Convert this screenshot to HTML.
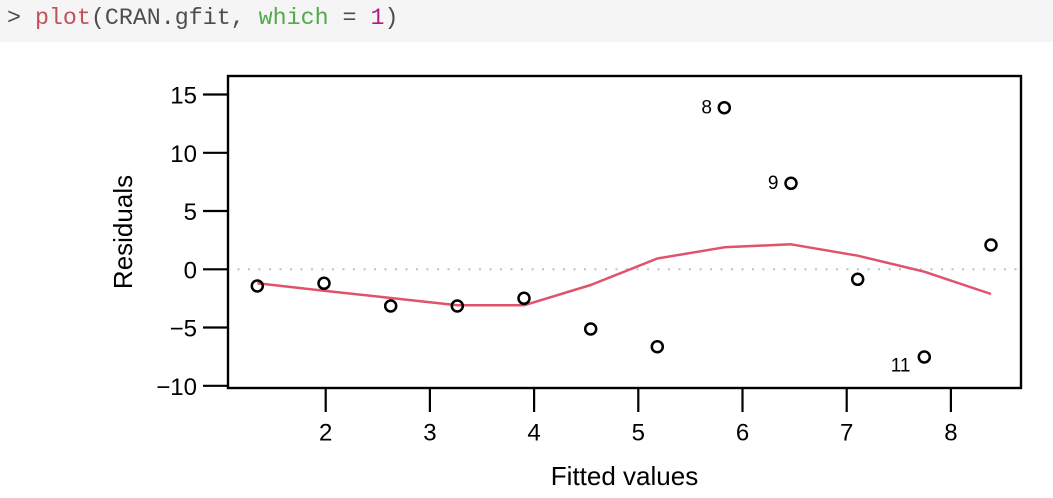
<!DOCTYPE html>
<html>
<head>
<meta charset="utf-8">
<style>
html,body{margin:0;padding:0;background:#fff;}
body{width:1053px;height:498px;overflow:hidden;position:relative;}
.hdr{position:absolute;left:0;top:0;width:1053px;height:42px;background:#f5f5f5;}
.code{position:absolute;left:7px;top:3px;font-family:"Liberation Mono",monospace;font-size:23.3px;line-height:30px;color:#4d4d4d;white-space:pre;}
.fn{color:#c4505c;}
.kw{color:#55a84b;}
.num{color:#b01a8a;}
svg{position:absolute;left:0;top:0;}
</style>
</head>
<body>
<div class="hdr"></div>
<div class="code">&gt; <span class="fn">plot</span>(CRAN.gfit, <span class="kw">which</span> = <span class="num">1</span>)</div>
<svg width="1053" height="498" viewBox="0 0 1053 498" xmlns="http://www.w3.org/2000/svg">
  <!-- zero dotted line -->
  <line x1="237.5" y1="269.3" x2="1020" y2="269.3" stroke="#c0c0c0" stroke-width="2" stroke-dasharray="2 8.5"/>
  <!-- lowess line -->
  <polyline fill="none" stroke="#DF536B" stroke-width="2.5" stroke-linejoin="round"
    points="257.3,283.3 324,290.7 390.7,298 457.3,305.3 524,305.3 590.7,285 657.3,258.5 724.3,247.3 791,244.3 857.7,255.7 924.3,271.7 991,294"/>
  <!-- points -->
  <g fill="none" stroke="#000" stroke-width="2.5">
    <circle cx="257.3" cy="286" r="5.5"/>
    <circle cx="324" cy="283.3" r="5.5"/>
    <circle cx="390.7" cy="306" r="5.5"/>
    <circle cx="457.3" cy="306" r="5.5"/>
    <circle cx="524" cy="298.3" r="5.5"/>
    <circle cx="590.7" cy="329" r="5.5"/>
    <circle cx="657.3" cy="346.7" r="5.5"/>
    <circle cx="724.3" cy="107.7" r="5.5"/>
    <circle cx="791" cy="183.3" r="5.5"/>
    <circle cx="857.7" cy="279.3" r="5.5"/>
    <circle cx="924.3" cy="357" r="5.5"/>
    <circle cx="991" cy="245" r="5.5"/>
  </g>
  <!-- point labels -->
  <g font-family="'Liberation Sans', sans-serif" font-size="19" fill="#000" text-anchor="end">
    <text x="712" y="113.3">8</text>
    <text x="778.5" y="189">9</text>
    <text x="910.5" y="371.5">11</text>
  </g>
  <!-- box -->
  <rect x="228" y="76" width="793" height="312" fill="none" stroke="#000" stroke-width="2.4"/>
  <!-- y ticks -->
  <g stroke="#000" stroke-width="2.2">
    <line x1="203" y1="94.5" x2="228" y2="94.5"/>
    <line x1="203" y1="152.8" x2="228" y2="152.8"/>
    <line x1="203" y1="211" x2="228" y2="211"/>
    <line x1="203" y1="269.3" x2="228" y2="269.3"/>
    <line x1="203" y1="327.5" x2="228" y2="327.5"/>
    <line x1="203" y1="385.8" x2="228" y2="385.8"/>
  </g>
  <g font-family="'Liberation Sans', sans-serif" font-size="24" fill="#000" text-anchor="end">
    <text x="197" y="103.5">15</text>
    <text x="197" y="161.8">10</text>
    <text x="197" y="220">5</text>
    <text x="197" y="278.3">0</text>
    <text x="197" y="336.5">−5</text>
    <text x="197" y="394.8">−10</text>
  </g>
  <!-- x ticks -->
  <g stroke="#000" stroke-width="2.2">
    <line x1="325.7" y1="388" x2="325.7" y2="412"/>
    <line x1="429.9" y1="388" x2="429.9" y2="412"/>
    <line x1="534.1" y1="388" x2="534.1" y2="412"/>
    <line x1="638.3" y1="388" x2="638.3" y2="412"/>
    <line x1="742.5" y1="388" x2="742.5" y2="412"/>
    <line x1="846.7" y1="388" x2="846.7" y2="412"/>
    <line x1="950.9" y1="388" x2="950.9" y2="412"/>
  </g>
  <g font-family="'Liberation Sans', sans-serif" font-size="24" fill="#000" text-anchor="middle">
    <text x="325.7" y="440.5">2</text>
    <text x="429.9" y="440.5">3</text>
    <text x="534.1" y="440.5">4</text>
    <text x="638.3" y="440.5">5</text>
    <text x="742.5" y="440.5">6</text>
    <text x="846.7" y="440.5">7</text>
    <text x="950.9" y="440.5">8</text>
  </g>
  <!-- axis titles -->
  <text x="624.5" y="485" font-family="'Liberation Sans', sans-serif" font-size="26" fill="#000" text-anchor="middle">Fitted values</text>
  <text x="0" y="0" transform="translate(132,232) rotate(-90)" font-family="'Liberation Sans', sans-serif" font-size="26" fill="#000" text-anchor="middle">Residuals</text>
</svg>
</body>
</html>
